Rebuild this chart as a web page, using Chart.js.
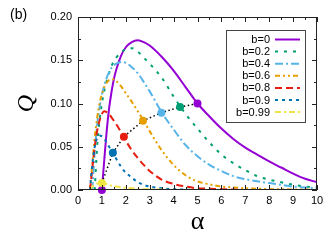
<!DOCTYPE html>
<html>
<head>
<meta charset="utf-8">
<script src="https://cdn.jsdelivr.net/npm/chart.js@4.4.1/dist/chart.umd.min.js"></script>
<style>
  html, body { margin: 0; padding: 0; background: #fff; }
  canvas { display: block; }
</style>
</head>
<body>
<canvas id="chart" width="333" height="243"></canvas>
<script>
// alpha grid shared by all curves
const alpha = [0.5, 0.6, 0.7, 0.8, 0.9, 1.0, 1.1, 1.2, 1.3, 1.4, 1.5, 1.6, 1.8, 2.0, 2.25, 2.5, 2.75,
  3.0, 3.5, 4.0, 4.5, 5.0, 5.5, 6.0, 6.5, 7.0, 7.5, 8.0, 8.5, 9.0, 9.5, 10];

const seriesLabels = ['b=0', 'b=0.2', 'b=0.4', 'b=0.6', 'b=0.8', 'b=0.9', 'b=0.99'];

const qB0 = [null, null, null, null, null, 0, 0.035, 0.068, 0.094, 0.113, 0.128, 0.139, 0.155, 0.165, 0.171, 0.173, 0.171,
  0.167, 0.154, 0.138, 0.119, 0.100, 0.085, 0.071, 0.059, 0.049, 0.041, 0.033, 0.026, 0.019, 0.013, 0.009];
const qB02 = [null, null, 0, 0.05, 0.08, 0.1, 0.115, 0.126, 0.135, 0.143, 0.149, 0.153, 0.159, 0.163, 0.164, 0.16, 0.153,
  0.146, 0.13, 0.108, 0.088, 0.071, 0.055, 0.041, 0.031, 0.023, 0.016, 0.012, 0.009, 0.006, 0.004, 0.003];
const qB04 = [null, 0, 0.045, 0.075, 0.095, 0.11, 0.121, 0.13, 0.136, 0.141, 0.144, 0.146, 0.148, 0.147, 0.142, 0.135, 0.125,
  0.114, 0.09, 0.07, 0.052, 0.039, 0.029, 0.022, 0.016, 0.0125, 0.01, 0.008, 0.006, 0.004, 0.003, 0.002];
const qB06 = [0, 0.03, 0.06, 0.083, 0.1, 0.111, 0.119, 0.124, 0.127, 0.128, 0.128, 0.126, 0.12, 0.112, 0.102, 0.091, 0.080,
  0.068, 0.046, 0.029, 0.017, 0.010, 0.0065, 0.004, 0.003, 0.002, 0.0015, 0.001, 0.001, 0.0005, 0.0005, 0];
const qB08 = [0, 0.025, 0.05, 0.068, 0.08, 0.088, 0.091, 0.09, 0.088, 0.084, 0.08, 0.076, 0.067, 0.057, 0.046, 0.037, 0.029,
  0.022, 0.012, 0.007, 0.004, 0.002, 0.0015, 0.001, 0.0005, 0, 0, 0, 0, 0, 0, 0];
const qB09 = [0, 0.03, 0.05, 0.06, 0.063, 0.062, 0.059, 0.055, 0.05, 0.046, 0.041, 0.036, 0.027, 0.020, 0.0145, 0.009, 0.006,
  0.004, 0.002, 0.001, 0.0005, 0, 0, 0, 0, 0, 0, 0, 0, 0, 0, 0];
const qB099 = [0, 0.004, 0.006, 0.0075, 0.008, 0.008, 0.0075, 0.007, 0.006, 0.005, 0.0045, 0.004, 0.003, 0.0025, 0.002, 0.0015, 0.001,
  0.001, 0.0005, 0, 0, 0, 0, 0, 0, 0, 0, 0, 0, 0, 0, 0];

// marked points joined by the dotted black line (b=0.99 ... b=0)
const markAlpha = [1.0, 1.46, 1.92, 2.72, 3.49, 4.27, 5.0];
const markQ = [0.008, 0.043, 0.0617, 0.080, 0.0894, 0.096, 0.100];
const startAlpha = [1.0];
const startQ = [0];

const colors = ['#9400d3', '#009e73', '#56b4e9', '#e69f00', '#e51e10', '#0072b2', '#f0e442'];
const dashes = [[], [3, 6], [8, 3, 2, 3], [5, 3, 2, 3, 2, 3], [7, 4], [3, 4], [6, 3, 2, 3]];
const qSeries = [qB0, qB02, qB04, qB06, qB08, qB09, qB099];

const toPoints = (xs, ys) => xs.map((x, i) => ({ x: x, y: ys[i] }));

const curveSets = qSeries.map((q, i) => ({
  label: seriesLabels[i],
  data: toPoints(alpha, q),
  borderColor: colors[i],
  borderWidth: 2,
  borderDash: dashes[i],
  pointRadius: 0,
  cubicInterpolationMode: 'monotone',
  fill: false,
  order: 10 - i
}));

const markColors = [colors[6], colors[5], colors[4], colors[3], colors[2], colors[1], colors[0]];

const framePlugin = {
  id: 'frame',
  afterDraw(chart) {
    const { ctx, chartArea: a, scales: { x, y } } = chart;
    ctx.save();
    ctx.strokeStyle = '#222';
    ctx.lineWidth = 1;
    ctx.strokeRect(a.left + 0.5, a.top + 0.5, a.right - a.left - 1, a.bottom - a.top - 1);
    ctx.beginPath();
    for (let i = 0; i <= 20; i++) {
      const px = Math.round(x.getPixelForValue(i * 0.5)) + 0.5;
      const len = i % 2 === 0 ? 5 : 3;
      ctx.moveTo(px, a.bottom); ctx.lineTo(px, a.bottom - len);
      ctx.moveTo(px, a.top); ctx.lineTo(px, a.top + len);
    }
    for (let i = 0; i <= 8; i++) {
      const py = Math.round(y.getPixelForValue(i * 0.025)) + 0.5;
      const len = i % 2 === 0 ? 5 : 3;
      ctx.moveTo(a.left, py); ctx.lineTo(a.left + len, py);
      ctx.moveTo(a.right, py); ctx.lineTo(a.right - len, py);
    }
    ctx.stroke();

    // panel label
    ctx.fillStyle = '#000';
    ctx.font = '14px "Liberation Sans", Arial, sans-serif';
    ctx.textBaseline = 'middle';
    ctx.textAlign = 'left';
    ctx.fillText('(b)', 10, 15);

    // key box
    const bx = 226, by = 30, bw = 79, bh = 92;
    ctx.fillStyle = '#fff';
    ctx.fillRect(bx, by, bw, bh);
    ctx.strokeStyle = '#444';
    ctx.strokeRect(bx + 0.5, by + 0.5, bw, bh);
    ctx.font = '11px "Liberation Sans", Arial, sans-serif';
    ctx.textAlign = 'right';
    seriesLabels.forEach((lab, i) => {
      const ly = 39.5 + i * 12.1;
      ctx.fillStyle = '#000';
      ctx.fillText(lab, 270, ly + 0.5);
      ctx.beginPath();
      ctx.strokeStyle = colors[i];
      ctx.lineWidth = 2;
      ctx.setLineDash(dashes[i]);
      ctx.moveTo(275, ly);
      ctx.lineTo(300, ly);
      ctx.stroke();
      ctx.setLineDash([]);
    });
    ctx.restore();
  }
};

new Chart(document.getElementById('chart'), {
  type: 'line',
  data: {
    datasets: [
      {
        label: 'marks',
        data: toPoints(markAlpha, markQ),
        showLine: true,
        borderColor: '#000',
        borderWidth: 1.5,
        borderDash: [1.5, 2.5],
        pointRadius: 4,
        pointBorderWidth: 0,
        pointBackgroundColor: markColors,
        clip: false,
        order: 0
      },
      {
        label: 'start',
        data: toPoints(startAlpha, startQ),
        showLine: false,
        pointRadius: 4,
        pointBorderWidth: 0,
        pointBackgroundColor: colors[0],
        clip: false,
        order: 1
      },
      ...curveSets
    ]
  },
  options: {
    responsive: false,
    animation: false,
    devicePixelRatio: 1,
    layout: { padding: { top: 17, right: 16, left: 0, bottom: 0 } },
    plugins: { legend: { display: false }, tooltip: { enabled: false } },
    scales: {
      x: {
        type: 'linear',
        min: 0,
        max: 10,
        grid: { display: false, drawTicks: false },
        border: { display: false },
        ticks: {
          stepSize: 1,
          padding: 4,
          color: '#000',
          font: { family: '"Liberation Sans", Arial, sans-serif', size: 11 }
        },
        title: {
          display: true,
          text: 'α',
          color: '#000',
          padding: { top: 0, bottom: 5 },
          font: { family: '"Liberation Serif", "DejaVu Serif", serif', size: 26 }
        },
        afterFit(scale) { scale.height = 53; }
      },
      y: {
        min: 0,
        max: 0.2,
        grid: { display: false, drawTicks: false },
        border: { display: false },
        ticks: {
          stepSize: 0.05,
          padding: 6,
          color: '#000',
          font: { family: '"Liberation Sans", Arial, sans-serif', size: 11 },
          callback: (v) => v.toFixed(2)
        },
        title: {
          display: true,
          text: 'Q',
          color: '#000',
          padding: { top: 12, bottom: 0 },
          font: { family: '"Liberation Serif", "DejaVu Serif", serif', size: 24, style: 'italic' }
        },
        afterFit(scale) { scale.width = 78; }
      }
    }
  },
  plugins: [framePlugin]
});
</script>
</body>
</html>
